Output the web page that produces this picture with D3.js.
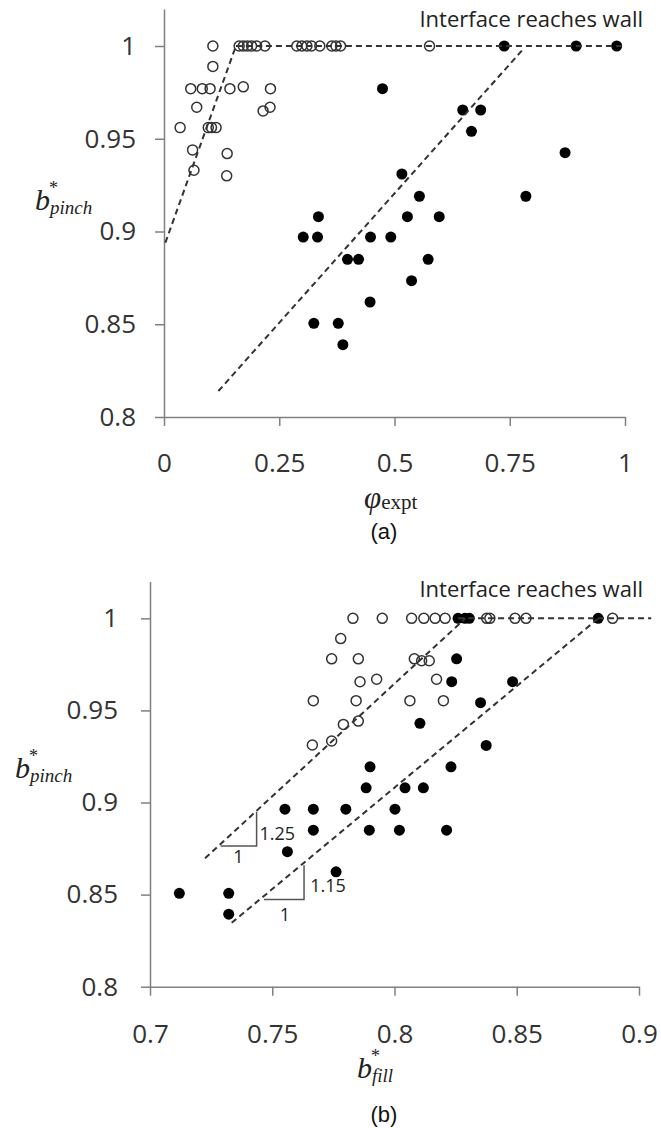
<!DOCTYPE html>
<html lang="en">
<head>
<meta charset="utf-8">
<title>b*pinch vs phi and b*fill</title>
<script src="https://cdn.jsdelivr.net/npm/d3@7"></script>
<style>
  body { margin: 0; background: #fff; }
  svg { display: block; }
  .axis .domain, .axis .tick line { stroke: #808080; stroke-width: 1.5px; }
  .axis .tick text { font-family: "Open Sans", sans-serif; font-size: 26px; fill: #333; }
  .fit { fill: none; stroke: #333; stroke-width: 2px; stroke-dasharray: 6,4; }
  .open { fill: none; stroke: #333; stroke-width: 1.5px; }
  .filled { fill: #000; }
  .tri { fill: none; stroke: #555; stroke-width: 1.5px; }
  .note { font-family: "Open Sans", sans-serif; fill: #222; }
  .serif { font-family: "Liberation Serif", "DejaVu Serif", serif; fill: #222; }
  .cap { font-family: "Liberation Sans", Arial, sans-serif; font-size: 22px; fill: #111; }
</style>
</head>
<body>
<script>
// ---- panel (a): b*pinch vs phi_expt ----
var aXTicks = [0, 0.25, 0.5, 0.75, 1];
var aYTicks = [0.8, 0.85, 0.9, 0.95, 1];

var aOpenX = [0.106, 0.163, 0.172, 0.181, 0.190, 0.201, 0.219, 0.288, 0.299, 0.310, 0.320, 0.338, 0.364, 0.373, 0.383, 0.576,
              0.106, 0.058, 0.083, 0.100, 0.143, 0.172, 0.231, 0.071, 0.215, 0.230,
              0.035, 0.096, 0.103, 0.113, 0.062, 0.137, 0.065, 0.136];
var aOpenY = [1, 1, 1, 1, 1, 1, 1, 1, 1, 1, 1, 1, 1, 1, 1, 1,
              0.989, 0.977, 0.977, 0.977, 0.977, 0.978, 0.977, 0.967, 0.965, 0.967,
              0.956, 0.956, 0.956, 0.956, 0.944, 0.942, 0.933, 0.930];

var aFilledX = [0.738, 0.894, 0.982, 0.474, 0.648, 0.687, 0.667, 0.870, 0.516, 0.554, 0.785,
                0.335, 0.528, 0.597, 0.302, 0.333, 0.448, 0.492, 0.398, 0.422, 0.573,
                0.537, 0.447, 0.325, 0.378, 0.388];
var aFilledY = [1, 1, 1, 0.977, 0.9655, 0.9655, 0.954, 0.9425, 0.931, 0.919, 0.919,
                0.908, 0.908, 0.908, 0.897, 0.897, 0.897, 0.897, 0.885, 0.885, 0.885,
                0.8735, 0.862, 0.8505, 0.8505, 0.839];

// dashed guide lines, [x, y] ends
var aFitLines = [
  [[0.003, 0.894], [0.156, 1]],
  [[0.156, 1], [0.993, 1]],
  [[0.118, 0.814], [0.778, 0.998]]
];

// ---- panel (b): b*pinch vs b*fill ----
var bXTicks = [0.7, 0.75, 0.8, 0.85, 0.9];
var bYTicks = [0.8, 0.85, 0.9, 0.95, 1];

var bOpenX = [0.783, 0.795, 0.807, 0.812, 0.8166, 0.8207, 0.8377, 0.839, 0.8493, 0.8538, 0.8892,
              0.778, 0.7743, 0.7852, 0.8081, 0.8111, 0.8142, 0.7859, 0.7927, 0.8172,
              0.7668, 0.7843, 0.8063, 0.820, 0.7791, 0.7852, 0.7664, 0.7743];
var bOpenY = [1, 1, 1, 1, 1, 1, 1, 1, 1, 1, 1,
              0.989, 0.978, 0.978, 0.978, 0.977, 0.977, 0.9656, 0.9669, 0.9669,
              0.9553, 0.9553, 0.9553, 0.9553, 0.9424, 0.9442, 0.9312, 0.9334];

var bFilledX = [0.826, 0.8288, 0.8306, 0.8833, 0.8254, 0.8234, 0.8483, 0.8352, 0.8104, 0.8375,
                0.790, 0.8231, 0.7884, 0.8043, 0.8118, 0.7552, 0.7668, 0.7801, 0.8002,
                0.7668, 0.7897, 0.802, 0.8213, 0.7562, 0.7761, 0.712, 0.7322, 0.7322];
var bFilledY = [1, 1, 1, 1, 0.978, 0.9656, 0.9656, 0.9542, 0.943, 0.931,
                0.9194, 0.9194, 0.908, 0.908, 0.908, 0.8964, 0.8964, 0.8964, 0.8964,
                0.885, 0.885, 0.885, 0.885, 0.8733, 0.8624, 0.8507, 0.8507, 0.8394];

var bFitLines = [
  [[0.7225, 0.8697], [0.829, 1]],
  [[0.7334, 0.8347], [0.8834, 1]],
  [[0.826, 1], [0.905, 1]]
];

// slope triangles: corner points and their labels
var bTriangles = [
  [[0.7289, 0.8764], [0.7436, 0.8764], [0.7436, 0.895]],
  [[0.7466, 0.8474], [0.763, 0.8474], [0.763, 0.866]]
];
var bRiseLabels = ["1.25", "1.15"];
var bRiseAt = [[0.7448, 0.8796], [0.7655, 0.8515]];
var bRunAt = [[0.7362, 0.8673], [0.7552, 0.8357]];

var W = 661, H = 1128;
var svg = d3.select("body").append("svg").attr("width", W).attr("height", H);
svg.append("rect").attr("width", W).attr("height", H).attr("fill", "#fff");

function toPts(xs, ys) {
  return xs.map(function(d, i) { return [d, ys[i]]; });
}

function panel(p) {
  var g = svg.append("g");
  var x = d3.scaleLinear().domain(p.xDomain).range(p.xRange);
  var y = d3.scaleLinear().domain(p.yDomain).range(p.yRange);

  g.append("g").attr("class", "axis")
    .attr("transform", "translate(0," + y(p.yDomain[0]) + ")")
    .call(d3.axisBottom(x).tickValues(p.xTicks).tickSize(9).tickSizeOuter(0)
      .tickPadding(p.xPad).tickFormat(function(d) { return String(d); }));

  g.append("g").attr("class", "axis")
    .attr("transform", "translate(" + x(p.xDomain[0]) + ",0)")
    .call(d3.axisLeft(y).tickValues(p.yTicks).tickSize(9).tickSizeOuter(0)
      .tickPadding(p.yPad).tickFormat(function(d) { return String(d); }));

  g.selectAll("circle.open").data(toPts(p.openX, p.openY)).enter()
    .append("circle").attr("class", "open")
    .attr("cx", function(d) { return x(d[0]); })
    .attr("cy", function(d) { return y(d[1]); })
    .attr("r", 5);

  g.selectAll("circle.filled").data(toPts(p.filledX, p.filledY)).enter()
    .append("circle").attr("class", "filled")
    .attr("cx", function(d) { return x(d[0]); })
    .attr("cy", function(d) { return y(d[1]); })
    .attr("r", 5.5);

  var line = d3.line().x(function(d) { return x(d[0]); }).y(function(d) { return y(d[1]); });
  g.selectAll("path.fit").data(p.fits).enter()
    .append("path").attr("class", "fit").attr("d", line);

  return { g: g, x: x, y: y, line: line };
}

// b with * superscript and italic subscript
function bLabel(x0, y0, sub) {
  var t = svg.append("g");
  t.append("text").attr("class", "serif").attr("x", x0).attr("y", y0)
    .style("font-size", "30px").style("font-style", "italic").text("b");
  t.append("text").attr("class", "serif").attr("x", x0 + 14).attr("y", y0 - 16)
    .style("font-size", "18px").text("*");
  t.append("text").attr("class", "serif").attr("x", x0 + 15).attr("y", y0 + 4)
    .style("font-size", "19px").style("font-style", "italic").text(sub);
}

// ---- draw (a) ----
var A = panel({
  xDomain: [0, 1], xRange: [164, 625],
  yDomain: [0.8, 1.02], yRange: [417, 8.9],
  xTicks: aXTicks, yTicks: aYTicks, xPad: 28, yPad: 19,
  openX: aOpenX, openY: aOpenY, filledX: aFilledX, filledY: aFilledY,
  fits: aFitLines
});

svg.append("text").attr("class", "note").attr("x", 643).attr("y", 27)
  .attr("text-anchor", "end").style("font-size", "22px").text("Interface reaches wall");

bLabel(35, 210, "pinch");

var phi = svg.append("text").attr("class", "serif").attr("x", 364).attr("y", 508);
phi.append("tspan").style("font-size", "31px").style("font-style", "italic").text("φ");
phi.append("tspan").attr("dy", 1).style("font-size", "21px").text("expt");

svg.append("text").attr("class", "cap").attr("x", 384).attr("y", 539)
  .attr("text-anchor", "middle").text("(a)");

// ---- draw (b) ----
var B = panel({
  xDomain: [0.7, 0.9], xRange: [150, 639],
  yDomain: [0.8, 1.02], yRange: [986.7, 581.5],
  xTicks: bXTicks, yTicks: bYTicks, xPad: 29, yPad: 23,
  openX: bOpenX, openY: bOpenY, filledX: bFilledX, filledY: bFilledY,
  fits: bFitLines
});

B.g.selectAll("path.tri").data(bTriangles).enter()
  .append("path").attr("class", "tri").attr("d", B.line);

B.g.selectAll("text.rise").data(bRiseLabels).enter()
  .append("text").attr("class", "note rise")
  .attr("x", function(d, i) { return B.x(bRiseAt[i][0]); })
  .attr("y", function(d, i) { return B.y(bRiseAt[i][1]); })
  .style("font-size", "18px").text(function(d) { return d; });

B.g.selectAll("text.run").data(bRunAt).enter()
  .append("text").attr("class", "note run")
  .attr("x", function(d) { return B.x(d[0]); })
  .attr("y", function(d) { return B.y(d[1]); })
  .attr("text-anchor", "middle")
  .style("font-size", "18px").text("1");

svg.append("text").attr("class", "note").attr("x", 643).attr("y", 597)
  .attr("text-anchor", "end").style("font-size", "22px").text("Interface reaches wall");

bLabel(15, 778, "pinch");
bLabel(357, 1078, "fill");

svg.append("text").attr("class", "cap").attr("x", 384).attr("y", 1122)
  .attr("text-anchor", "middle").text("(b)");
</script>
</body>
</html>
